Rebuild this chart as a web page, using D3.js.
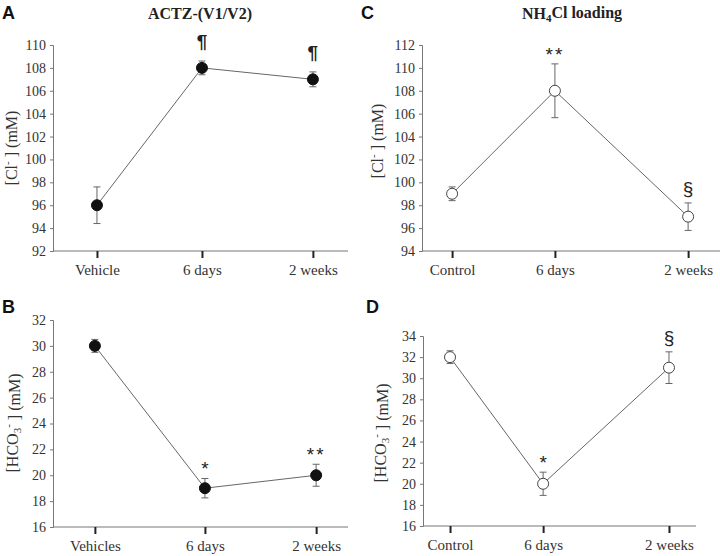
<!DOCTYPE html>
<html>
<head>
<meta charset="utf-8">
<script src="https://cdn.jsdelivr.net/npm/d3@7"></script>
<style>
    body { margin: 0; background: #fff; }
    svg { display: block; }
    .tick text { font-family: "Liberation Serif", "Times New Roman", serif; fill: #333; }
</style>
</head>
<body>
<div id="chart"></div>
<script>
// Data
const catsA = ['Vehicle', '6 days', '2 weeks'];
const meanA = [96, 108, 107];
const errA = [1.6, 0.6, 0.65];
const markA = ['', '¶', '¶'];

const catsB = ['Vehicles', '6 days', '2 weeks'];
const meanB = [30, 19, 20];
const errB = [0.5, 0.75, 0.85];
const markB = ['', '*', '**'];

const catsC = ['Control', '6 days', '2 weeks'];
const meanC = [99, 108, 97];
const errC = [0.6, 2.35, 1.2];
const markC = ['', '**', '§'];

const catsD = ['Control', '6 days', '2 weeks'];
const meanD = [32, 20, 31];
const errD = [0.6, 1.1, 1.5];
const markD = ['', '*', '§'];

const yDomA = [92, 110];
const yDomB = [16, 32];
const yDomC = [94, 112];
const yDomD = [16, 34];

const width = 720, height = 556;
const svg = d3.select('#chart').append('svg')
    .attr('width', width)
    .attr('height', height);

const serif = '"Liberation Serif", "Times New Roman", serif';
const sans = '"Liberation Sans", Arial, sans-serif';

// layout per panel
const panels = [
    { id: 'A', cats: catsA, mean: meanA, err: errA, mark: markA, dom: yDomA, filled: true,
      left: 53, right: 348, top: 45, bottom: 251, catPos: [0.149, 0.505, 0.881],
      letter: [2, 19], ylab: 'cl', ylabPos: [11, 148], title: 'ACTZ', titlePos: [200, 19] },
    { id: 'B', cats: catsB, mean: meanB, err: errB, mark: markB, dom: yDomB, filled: true,
      left: 53, right: 348, top: 320, bottom: 527, catPos: [0.142, 0.515, 0.892],
      letter: [2, 313], ylab: 'hco', ylabPos: [12, 423] },
    { id: 'C', cats: catsC, mean: meanC, err: errC, mark: markC, dom: yDomC, filled: false,
      left: 422, right: 720, top: 45, bottom: 251, catPos: [0.101, 0.446, 0.893],
      letter: [361, 19], ylab: 'cl', ylabPos: [377, 141], title: 'NH4', titlePos: [572, 19] },
    { id: 'D', cats: catsD, mean: meanD, err: errD, mark: markD, dom: yDomD, filled: false,
      left: 423, right: 696, top: 336, bottom: 526, catPos: [0.099, 0.44, 0.901],
      letter: [366, 313], ylab: 'hco', ylabPos: [380, 433] }
];

panels.forEach(p => drawPanel(p));

// gap between the top of the error bar and the mark's baseline
function markOffset(k) {
    if (k.startsWith('*')) return 3;
    if (k === '¶') return 13;
    return 8;
}

function drawPanel(p) {
    const g = svg.append('g').attr('class', 'panel-' + p.id);

    const x = d3.scaleOrdinal()
        .domain(p.cats)
        .range(p.catPos.map(f => p.left + f * (p.right - p.left)));
    const y = d3.scaleLinear().domain(p.dom).range([p.bottom, p.top]);

    // y axis
    const yAxis = d3.axisLeft(y)
        .tickValues(d3.range(p.dom[0], p.dom[1] + 1, 2))
        .tickSize(3)
        .tickPadding(4);
    const ya = g.append('g')
        .attr('transform', `translate(${p.left},0)`)
        .call(yAxis)
        .attr('font-family', serif)
        .attr('font-size', 14);
    ya.select('.domain').attr('stroke', '#777').attr('stroke-width', 1);
    ya.selectAll('.tick line').attr('stroke', '#777');
    ya.selectAll('.tick text').attr('font-size', 14).attr('font-family', serif);

    // x axis line
    g.append('line')
        .attr('x1', p.left).attr('x2', p.right)
        .attr('y1', p.bottom).attr('y2', p.bottom)
        .attr('stroke', '#777').attr('stroke-width', 1);

    const xAxis = d3.axisBottom(x).tickSize(7).tickPadding(6);
    const xa = g.append('g')
        .attr('transform', `translate(0,${p.bottom})`)
        .call(xAxis)
        .attr('font-family', serif)
        .attr('font-size', 15);
    xa.select('.domain').remove();
    xa.selectAll('.tick line').attr('stroke', '#222').attr('stroke-width', 2);
    xa.selectAll('.tick text').attr('font-size', 15).attr('font-family', serif);

    const pts = p.cats.map((c, i) => ({ c, m: p.mean[i], e: p.err[i], k: p.mark[i] }));

    // connecting line
    g.append('path')
        .datum(pts)
        .attr('fill', 'none')
        .attr('stroke', '#555')
        .attr('stroke-width', 0.9)
        .attr('d', d3.line().x(d => x(d.c)).y(d => y(d.m)));

    // error bars
    const eb = g.append('g').selectAll('g').data(pts).enter().append('g')
        .attr('stroke', '#666').attr('stroke-width', 1);
    eb.append('line')
        .attr('x1', d => x(d.c)).attr('x2', d => x(d.c))
        .attr('y1', d => y(d.m - d.e)).attr('y2', d => y(d.m + d.e));
    eb.append('line')
        .attr('x1', d => x(d.c) - 3.5).attr('x2', d => x(d.c) + 3.5)
        .attr('y1', d => y(d.m + d.e)).attr('y2', d => y(d.m + d.e));
    eb.append('line')
        .attr('x1', d => x(d.c) - 3.5).attr('x2', d => x(d.c) + 3.5)
        .attr('y1', d => y(d.m - d.e)).attr('y2', d => y(d.m - d.e));

    // markers
    g.append('g').selectAll('circle').data(pts).enter().append('circle')
        .attr('cx', d => x(d.c)).attr('cy', d => y(d.m))
        .attr('r', 5.5)
        .attr('fill', p.filled ? '#111' : '#fff')
        .attr('stroke', p.filled ? '#111' : '#444')
        .attr('stroke-width', 1);

    // significance marks
    g.append('g').selectAll('text').data(pts.filter(d => d.k)).enter().append('text')
        .attr('x', d => x(d.c))
        .attr('y', d => y(d.m + d.e) - markOffset(d.k))
        .attr('text-anchor', 'middle')
        .attr('font-family', sans)
        .attr('font-weight', d => d.k === '¶' ? 'bold' : 'normal')
        .attr('font-size', d => d.k.startsWith('*') ? 19 : 19)
        .attr('letter-spacing', d => d.k === '**' ? 2 : 0)
        .attr('fill', '#222')
        .text(d => d.k);

    // panel letter
    g.append('text')
        .attr('x', p.letter[0]).attr('y', p.letter[1])
        .attr('font-family', sans).attr('font-weight', 'bold')
        .attr('font-size', 18).attr('fill', '#111')
        .text(p.id);

    // y label
    const yl = g.append('text')
        .attr('transform', `translate(${p.ylabPos[0]},${p.ylabPos[1]}) rotate(-90)`)
        .attr('dy', '0.35em')
        .attr('text-anchor', 'middle')
        .attr('font-family', serif).attr('font-size', 16).attr('fill', '#333');
    if (p.ylab === 'cl') {
        yl.append('tspan').text('[Cl');
        yl.append('tspan').attr('font-size', 11).attr('dy', '-0.5em').text('-');
        yl.append('tspan').attr('dy', '0.35em').text(' ] (mM)');
    } else {
        yl.append('tspan').text('[HCO');
        yl.append('tspan').attr('font-size', 11).attr('dy', '0.3em').text('3');
        yl.append('tspan').attr('font-size', 11).attr('dy', '-0.8em').text('-');
        yl.append('tspan').attr('dy', '0.5em').text(' ] (mM)');
    }

    // title
    if (p.title) {
        const t = g.append('text')
            .attr('x', p.titlePos[0]).attr('y', p.titlePos[1])
            .attr('text-anchor', 'middle')
            .attr('font-family', serif).attr('font-weight', 'bold')
            .attr('font-size', 16).attr('fill', '#222');
        if (p.title === 'ACTZ') {
            t.text('ACTZ-(V1/V2)');
        } else {
            t.append('tspan').text('NH');
            t.append('tspan').attr('font-size', 11).attr('dy', '0.3em').text('4');
            t.append('tspan').attr('dy', '-0.3em').text('Cl loading');
        }
    }
}
</script>
</body>
</html>
